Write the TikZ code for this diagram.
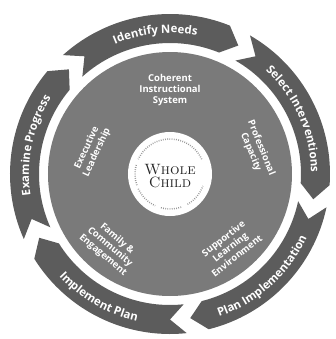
\documentclass[tikz,border=0pt]{standalone}
\usepackage{fontspec}
\setsansfont{Open Sans}
\usetikzlibrary{decorations.text}

\begin{document}
\begin{tikzpicture}[x=1bp, y=1bp,
    band/.style={fill=black!64},
    ringtext/.style={decorate, decoration={text along path, text align=center,
        text={|\sffamily\bfseries\fontsize{11.5}{12}\selectfont\color{white}|#1}}},
    inner/.style={white, font=\sffamily\bfseries\fontsize{9.5}{11}\selectfont, align=center}]
    \useasboundingbox (-170,-165) rectangle (166,174);
    % chevron arrows, going clockwise
    \foreach \t in {132,60,-12,-84,-156}
        \fill[band] (\t:160) arc[start angle=\t, end angle=\t-64, radius=160] -- (\t-70:145.5)
            -- (\t-64:131) arc[start angle=\t-64, end angle=\t, radius=131] -- (\t-6:145.5) -- cycle;
    \path[ringtext=Identify Needs] (129:141) arc[start angle=129, end angle=63, radius=141];
    \path[ringtext=Select Interventions] (57:141) arc[start angle=57, end angle=-9, radius=141];
    \path[ringtext=Examine Progress] (201:141) arc[start angle=201, end angle=135, radius=141];
    \path[ringtext=Plan Implementation] (-81:151) arc[start angle=-81, end angle=-15, radius=151];
    \path[ringtext=Implement Plan] (-153:151) arc[start angle=-153, end angle=-87, radius=151];
    % inner disk
    \fill[black!52] (0,0) circle (122);
    \fill[white] (0,0) circle (42);
    \foreach \a/\b in {25/155, 165/200, 205/245, 255/290, 300/340}
        \draw[black!40, line width=1.5, dash pattern=on 0.8 off 1.4] (\a:35) arc[start angle=\a, end angle=\b, radius=35];
    \node[inner] (system) at (0,84) {Coherent\\Instructional\\System};
    \node[inner, rotate=65] (leader) at (-78,24) {Executive\\Leadership};
    \node[inner, rotate=-68] (capacity) at (86,24) {Professional\\Capacity};
    \node[inner, rotate=-40] (family) at (-60,-73) {Family \&\\Community\\Engagement};
    \node[inner, rotate=38] (support) at (60,-73) {Supportive\\Learning\\Environment};
    \node[black!85, font=\fontsize{15}{13}\selectfont, align=center] (child) at (0,-2) {\textsc{Whole}\\\textsc{Child}};
\end{tikzpicture}
\end{document}
